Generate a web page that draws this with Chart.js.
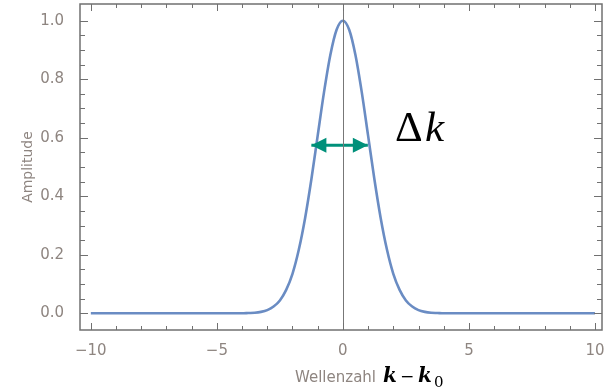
<!DOCTYPE html>
<html lang="de">
  <head>
    <meta charset="UTF-8" />
    <script src="https://cdn.jsdelivr.net/npm/chart.js@4.4.1/dist/chart.umd.min.js"></script>
    <title>Wellenpaket</title>
    <style>
      body { margin: 0; background: #fff; }
    </style>
  </head>
  <body>
    <canvas id="myChart" width="608" height="388"></canvas>
    <script>
      // values
      const waveNumber = [-10, -4, -3.75, -3.5, -3.25, -3, -2.75, -2.5, -2.25, -2, -1.75, -1.5, -1.25, -1, -0.75, -0.5, -0.25,
        0, 0.25, 0.5, 0.75, 1, 1.25, 1.5, 1.75, 2, 2.25, 2.5, 2.75, 3, 3.25, 3.5, 3.75, 4, 10];
      const amplitude = [0, 0, 0.001, 0.002, 0.005, 0.011, 0.023, 0.044, 0.08, 0.135, 0.217, 0.325, 0.458, 0.607, 0.755, 0.882, 0.969,
        1.0, 0.969, 0.882, 0.755, 0.607, 0.458, 0.325, 0.217, 0.135, 0.08, 0.044, 0.023, 0.011, 0.005, 0.002, 0.001, 0, 0];
      const xTickLabels = [-10, -5, 0, 5, 10];
      const yTickLabels = [0, 0.2, 0.4, 0.6, 0.8, 1.0];
      const arrowX = [-1.25, 0.99];
      const arrowY = 0.574;

      const labelColor = "#8e8580";
      const frameColor = "#707070";
      const fmt = (v) => (v < 0 ? "\u2212" + Math.abs(v) : String(v));

      const decor = {
        id: "decor",
        afterDatasetsDraw(chart) {
          const ctx = chart.ctx;
          const xs = chart.scales.x, ys = chart.scales.y;
          ctx.save();
          // arrow heads
          const ay = ys.getPixelForValue(arrowY);
          const l = xs.getPixelForValue(arrowX[0]);
          const r = xs.getPixelForValue(arrowX[1]);
          ctx.fillStyle = "#00907a";
          ctx.beginPath();
          ctx.moveTo(l, ay); ctx.lineTo(l + 15, ay - 7.5); ctx.lineTo(l + 15, ay + 7.5); ctx.closePath();
          ctx.moveTo(r, ay); ctx.lineTo(r - 15, ay - 7.5); ctx.lineTo(r - 15, ay + 7.5); ctx.closePath();
          ctx.fill();
          ctx.restore();
        },
        afterDraw(chart) {
          const ctx = chart.ctx;
          const xs = chart.scales.x, ys = chart.scales.y;
          const a = chart.chartArea;
          ctx.save();
          // zero line
          const x0 = Math.round(xs.getPixelForValue(0)) + 0.5;
          ctx.strokeStyle = "#777";
          ctx.lineWidth = 1;
          ctx.beginPath();
          ctx.moveTo(x0, a.top); ctx.lineTo(x0, a.bottom);
          ctx.stroke();

          // frame
          ctx.strokeStyle = frameColor;
          ctx.lineWidth = 1.5;
          ctx.strokeRect(a.left, a.top, a.right - a.left, a.bottom - a.top);

          // ticks, pointing inside
          ctx.lineWidth = 1;
          ctx.beginPath();
          for (let v = -10; v <= 10; v++) {
            const px = Math.round(xs.getPixelForValue(v)) + 0.5;
            const len = v % 5 === 0 ? 7 : 4;
            ctx.moveTo(px, a.bottom); ctx.lineTo(px, a.bottom - len);
            ctx.moveTo(px, a.top); ctx.lineTo(px, a.top + len);
          }
          for (let i = 0; i <= 20; i++) {
            const v = i * 0.05;
            const py = Math.round(ys.getPixelForValue(v)) + 0.5;
            const len = i % 4 === 0 ? 8 : 5;
            ctx.moveTo(a.left, py); ctx.lineTo(a.left + len, py);
            ctx.moveTo(a.right, py); ctx.lineTo(a.right - len, py);
          }
          ctx.stroke();

          // x axis label
          ctx.textBaseline = "alphabetic";
          ctx.textAlign = "left";
          ctx.fillStyle = labelColor;
          ctx.font = "15px 'DejaVu Sans'";
          ctx.fillText("Wellenzahl", 295, 382);
          ctx.fillStyle = "#000";
          ctx.font = "bold italic 20px 'DejaVu Serif'";
          ctx.fillText("k", 383, 382);
          ctx.font = "17px 'DejaVu Serif'";
          ctx.fillText("\u2212", 400, 382);
          ctx.font = "bold italic 20px 'DejaVu Serif'";
          ctx.fillText("k", 418, 382);
          ctx.font = "15px 'DejaVu Serif'";
          ctx.fillText("0", 434, 387);

          // delta k annotation
          ctx.font = "43px 'Liberation Serif'";
          ctx.fillText("\u0394", 395, 141);
          ctx.font = "italic 43px 'Liberation Serif'";
          ctx.fillText("k", 425, 141);
          ctx.restore();
        },
      };

      const ctx = document.getElementById("myChart").getContext("2d");
      const myChart = new Chart(ctx, {
        type: "line",
        data: {
          datasets: [
            {
              label: "Amplitude",
              data: waveNumber.map((x, i) => ({ x: x, y: amplitude[i] })),
              borderColor: "#6a8cc3",
              borderWidth: 2.6,
              pointRadius: 0,
              cubicInterpolationMode: "monotone",
            },
            {
              label: "Delta k",
              data: arrowX.map((x) => ({ x: x, y: arrowY })),
              borderColor: "#00907a",
              borderWidth: 3,
              pointRadius: 0,
            },
          ],
        },
        options: {
          responsive: false,
          animation: false,
          events: [],
          layout: { padding: { left: 0, right: 6, top: 4, bottom: 0 } },
          plugins: { legend: { display: false }, tooltip: { enabled: false } },
          scales: {
            x: {
              type: "linear",
              min: -10.43,
              max: 10.28,
              grid: { display: false },
              border: { display: false },
              afterBuildTicks: (s) => { s.ticks = xTickLabels.map((v) => ({ value: v })); },
              afterFit: (s) => { s.height = 58; s.paddingLeft = 0; s.paddingRight = 0; },
              ticks: {
                color: labelColor,
                font: { family: "DejaVu Sans", size: 15 },
                padding: 4,
                maxRotation: 0,
                callback: (v) => fmt(v),
              },
            },
            y: {
              min: -0.057,
              max: 1.057,
              grid: { display: false },
              border: { display: false },
              afterBuildTicks: (s) => { s.ticks = yTickLabels.map((v) => ({ value: v })); },
              afterFit: (s) => { s.width = 80; s.paddingTop = 0; s.paddingBottom = 0; },
              ticks: {
                color: labelColor,
                font: { family: "DejaVu Sans", size: 15 },
                padding: 8,
                callback: (v) => v.toFixed(1),
              },
              title: {
                display: true,
                text: "Amplitude",
                color: labelColor,
                font: { family: "DejaVu Sans", size: 14 },
                padding: { top: 20, bottom: 0 },
              },
            },
          },
        },
        plugins: [decor],
      });
    </script>
  </body>
</html>
